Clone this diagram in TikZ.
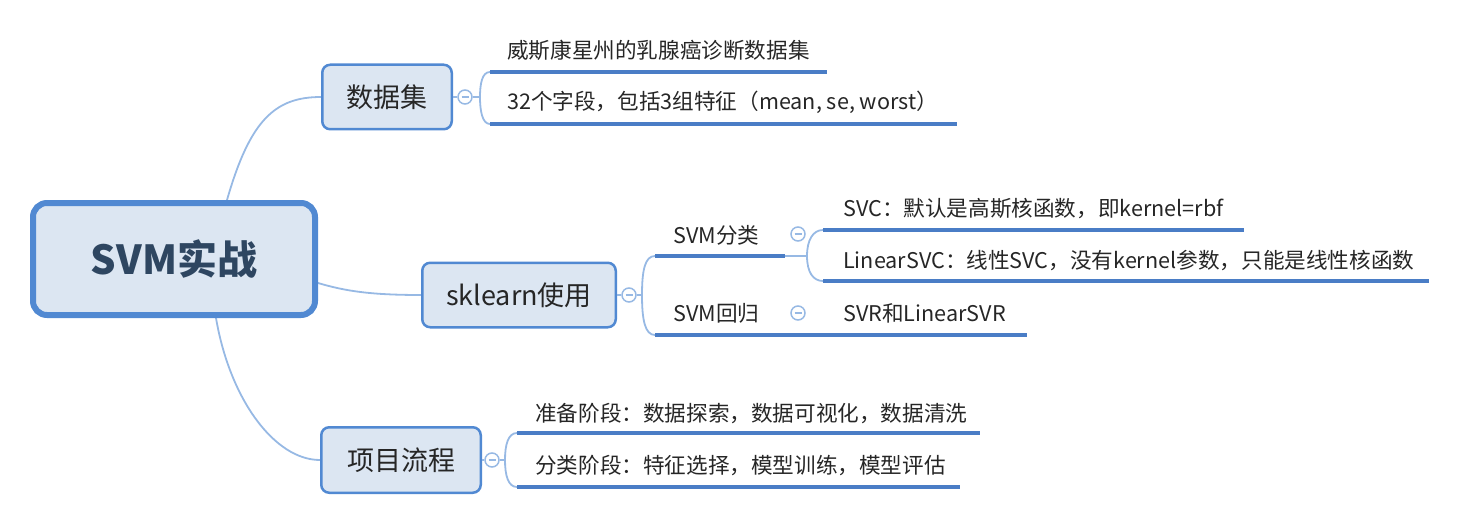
\documentclass[tikz,border=0pt]{standalone}
\usepackage{fontspec}
\setmainfont{Noto Sans CJK SC}
\usetikzlibrary{backgrounds}
\definecolor{boxf}{HTML}{DCE6F2}
\definecolor{boxb}{HTML}{5189D2}
\definecolor{connc}{HTML}{97B9E4}
\definecolor{ulc}{HTML}{4A7DC6}
\definecolor{txt}{HTML}{262626}
\definecolor{roottxt}{HTML}{2E4661}
\begin{document}
\begin{tikzpicture}[x=1pt,y=-1pt,
  box/.style={draw=boxb, fill=boxf, line width=2.5pt, rounded corners=8pt, text=txt, font=\fontsize{27}{32}\selectfont, inner sep=0pt},
  rootbox/.style={draw=boxb, fill=boxf, line width=6pt, rounded corners=14pt, text=roottxt, font=\fontsize{40}{48}\selectfont\bfseries, inner sep=0pt, minimum width=282pt, minimum height=112pt},
  conn/.style={draw=connc, line width=1.8pt},
  uline/.style={draw=ulc, line width=4pt},
  leaf/.style={anchor=base west, inner sep=0pt, text=txt, font=\fontsize{21.6}{26}\selectfont},
  coll/.style={circle, draw=connc, fill=white, line width=1.5pt, minimum size=14pt, inner sep=0pt,
    path picture={\draw[connc, line width=1.2pt] ([xshift=-3.5pt]path picture bounding box.center) -- ([xshift=3.5pt]path picture bounding box.center);}}
]
\useasboundingbox (0,0) rectangle (1464,524);

% main boxes
\node[rootbox] (root) at (174,259) {SVM实战};
\node[box, minimum width=129.5pt, minimum height=64.5pt] (ds) at (387,97) {数据集};
\node[box, minimum width=193.5pt, minimum height=64.5pt] (sk) at (519,295) {sklearn使用};
\node[box, minimum width=159.5pt, minimum height=65.5pt] (xm) at (401,460) {项目流程};

\begin{scope}[on background layer]
\draw[conn] ([xshift=53pt]root.north) .. controls (250,120) and (275,97) .. (ds.west);
\draw[conn] ([yshift=-24pt]root.east) .. controls (345,291) and (370,295) .. (sk.west);
\draw[conn] ([xshift=42pt]root.south) .. controls (230,400) and (275,460) .. (xm.west);
\end{scope}

% collapse buttons
\node[coll] (c1) at (465,97) {};
\node[coll] (c2) at (629,295) {};
\node[coll] (c3) at (492,460) {};
\node[coll] (c4) at (798,234) {};
\node[coll] (c5) at (798,313) {};

% ---- 数据集 branch
\coordinate (v1) at (480,97);
\coordinate (a1) at (490,72);  \coordinate (b1) at (827,72);
\coordinate (a2) at (490,124); \coordinate (b2) at (957,124);
\draw[conn] (ds.east) -- (c1.west);
\draw[conn] (c1.east) -- (v1);
\draw[conn] (a1) .. controls (482,72) and (480,84) .. (v1) .. controls (480,110) and (482,124) .. (a2);
\draw[uline] (a1) -- (b1);
\draw[uline] (a2) -- (b2);
\node[leaf] (t1) at (507,59) {威斯康星州的乳腺癌诊断数据集};
\node[leaf] (t2) at (507,110) {32个字段，包括3组特征（mean, se, worst）};

% ---- sklearn branch
\coordinate (v2) at (642,295);
\coordinate (a3) at (655,256); \coordinate (b3) at (785,256);
\coordinate (a4) at (655,335); \coordinate (b4) at (785,335);
\draw[conn] (sk.east) -- (c2.west);
\draw[conn] (c2.east) -- (v2);
\draw[conn] (a3) .. controls (645,256) and (642,270) .. (v2) .. controls (642,320) and (645,335) .. (a4);
\draw[uline] (a3) -- (b3);
\draw[uline] (a4) -- (b4);
\node[leaf] (s1) at (673,243) {SVM分类};
\node[leaf] (s2) at (673,321) {SVM回归};

% SVM分类 children
\coordinate (v3) at (807,256);
\coordinate (a5) at (823,230); \coordinate (b5) at (1244,230);
\coordinate (a6) at (823,281); \coordinate (b6) at (1429,281);
\draw[conn] (b3) -- (v3);
\draw[conn] (a5) .. controls (813,230) and (807,240) .. (v3) .. controls (807,272) and (813,281) .. (a6);
\draw[uline] (a5) -- (b5);
\draw[uline] (a6) -- (b6);
\node[leaf] (l1) at (843,216) {SVC：默认是高斯核函数，即kernel=rbf};
\node[leaf] (l2) at (843,268) {LinearSVC：线性SVC，没有kernel参数，只能是线性核函数};

% SVM回归 child
\coordinate (a7) at (823,335); \coordinate (b7) at (1027,335);
\draw[uline] (b4) -- (a7);
\draw[uline] (a7) -- (b7);
\node[leaf] (l3) at (843,321) {SVR和LinearSVR};

% ---- 项目流程 branch
\coordinate (v4) at (505,460);
\coordinate (a8) at (517,433); \coordinate (b8) at (980,433);
\coordinate (a9) at (517,487); \coordinate (b9) at (960,487);
\draw[conn] (xm.east) -- (c3.west);
\draw[conn] (c3.east) -- (v4);
\draw[conn] (a8) .. controls (508,433) and (505,445) .. (v4) .. controls (505,475) and (508,487) .. (a9);
\draw[uline] (a8) -- (b8);
\draw[uline] (a9) -- (b9);
\node[leaf] (p1) at (535,421) {准备阶段：数据探索，数据可视化，数据清洗};
\node[leaf] (p2) at (535,473) {分类阶段：特征选择，模型训练，模型评估};
\end{tikzpicture}
\end{document}
